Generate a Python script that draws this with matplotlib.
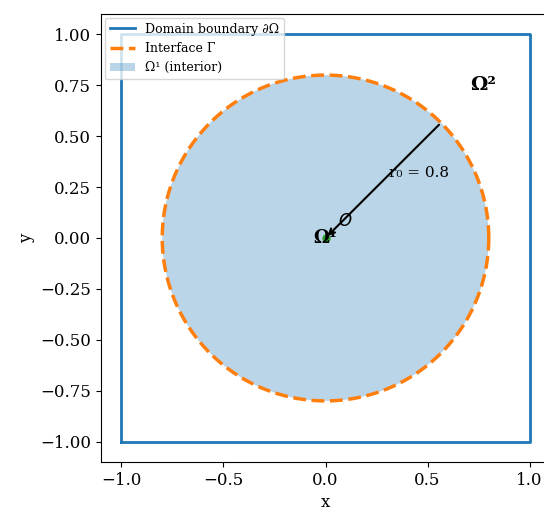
import numpy as np
import matplotlib
matplotlib.use("Agg")
import matplotlib.pyplot as plt

plt.rcParams['font.family'] = ['DejaVu Serif']

# domain and interface
square_x = [-1, 1, 1, -1, -1]
square_y = [-1, -1, 1, 1, -1]
r0 = 0.8
theta = np.linspace(0, 2 * np.pi, 400)
circ_x = r0 * np.cos(theta)
circ_y = r0 * np.sin(theta)
arrow_angle = np.pi / 4

fig = plt.figure(figsize=(5.44, 5.16), dpi=100)
ax = fig.add_axes([101 / 544, 54 / 516, 449 / 544, 448 / 516])

ax.plot(square_x, square_y, color='C0', lw=2, label='Domain boundary ∂Ω')
ax.fill(circ_x, circ_y, color='C0', alpha=0.3, lw=0, label='Ω¹ (interior)')
ax.plot(circ_x, circ_y, color='C1', lw=2.5, ls='--', label='Interface Γ')

ax.plot(0, 0, 'o', color='C2', ms=5)
ax.text(0.06, 0.04, '$O$', fontsize=12, ha='left', va='bottom')
ax.text(0, 0, 'Ω¹', fontsize=13, ha='center', va='center', fontweight='bold')
ax.text(0.77, 0.75, 'Ω²', fontsize=14, ha='center', va='center', fontweight='bold')

ax.annotate('', xy=(0, 0), xytext=(r0 * np.cos(arrow_angle), r0 * np.sin(arrow_angle)),
            arrowprops=dict(arrowstyle='->', color='black', lw=1.5))
ax.text(0.46, 0.32, 'r₀ = 0.8', fontsize=11, ha='center', va='center')

handles, labels = ax.get_legend_handles_labels()
order = [0, 2, 1]
ax.legend([handles[i] for i in order], [labels[i] for i in order],
          loc='upper left', fontsize=9, borderaxespad=0.3)

ax.set_xlim(-1.1, 1.1)
ax.set_ylim(-1.1, 1.1)
ax.set_xticks([-1.0, -0.5, 0.0, 0.5, 1.0])
ax.set_yticks([-1.0, -0.75, -0.5, -0.25, 0.0, 0.25, 0.5, 0.75, 1.0])
ax.tick_params(labelsize=12)
ax.set_xlabel('x', fontsize=12)
ax.set_ylabel('y', fontsize=12)
# the original image is cut just before the right edge of the axes
ax.spines['right'].set_visible(False)

fig.savefig('out.png', dpi=100)
